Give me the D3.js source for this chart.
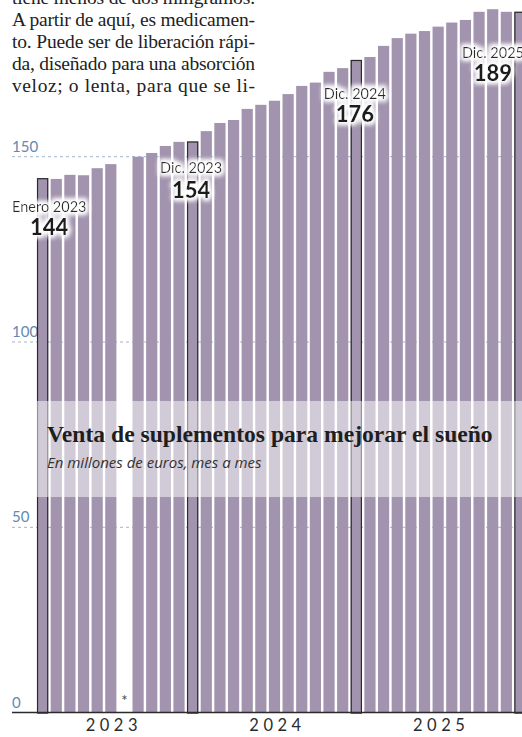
<!DOCTYPE html>
<html>
<head>
<meta charset="utf-8">
<script src="https://cdn.jsdelivr.net/npm/d3@7"></script>
<style>
  html, body { margin: 0; padding: 0; background: #fff; }
  svg { display: block; }
</style>
</head>
<body>
<svg id="chart" width="522" height="737"></svg>
<script>
// ---------------- DATA ----------------
const years = ["2023", "2024", "2025"];
const monthNames = ["Ene", "Feb", "Mar", "Abr", "May", "Jun", "Jul", "Ago", "Sep", "Oct", "Nov", "Dic"];
// Ventas mensuales, millones de euros (julio 2023 sin dato *)
const sales2023 = [144.2, 144.0, 145.1, 145.0, 146.9, 148.0, null, 150.0, 151.0, 152.9, 154.0, 154.1];
const sales2024 = [156.9, 159.1, 159.9, 162.9, 164.0, 165.1, 166.9, 169.1, 170.0, 172.9, 173.9, 176.1];
const sales2025 = [176.9, 179.9, 182.0, 183.2, 183.9, 185.1, 186.2, 186.9, 189.1, 189.8, 189.1, 189.1];
const yTicks = [0, 50, 100, 150];
const highlightKeys = ["2023-Ene", "2023-Dic", "2024-Dic", "2025-Dic"];
const highlightNames = ["Enero 2023", "Dic. 2023", "Dic. 2024", "Dic. 2025"];
const missingKey = "2023-Jul";
const introLines = [
  "tiene menos de dos miligramos.",
  "A partir de aquí, es medicamen-",
  "to. Puede ser de liberación rápi-",
  "da, diseñado para una absorción",
  "veloz; o lenta, para que se li-"
];
const title = "Venta de suplementos para mejorar el sueño";
const subtitle = "En millones de euros, mes a mes";

// ---------------- BUILD ----------------
const allSales = [sales2023, sales2024, sales2025];
const data = [];
years.forEach((yr, i) => monthNames.forEach((m, j) => {
  data.push({ key: yr + "-" + m, year: yr, month: m, value: allSales[i][j] });
}));

const svg = d3.select("#chart");
const W = 522, H = 737;

const x = d3.scaleBand()
  .domain(data.map(d => d.key))
  .range([35.8, 526.8])
  .paddingInner(0.18)
  .paddingOuter(0.09);

const y = d3.scaleLinear().domain([0, 150]).range([712.6, 156.7]);

const sans = "Lato, 'Open Sans', sans-serif";
const serif = "'Liberation Serif', 'DejaVu Serif', serif";

// glow filter
const defs = svg.append("defs");
const f = defs.append("filter").attr("id", "glow")
  .attr("x", "-30%").attr("y", "-50%").attr("width", "160%").attr("height", "200%");
f.append("feMorphology").attr("in", "SourceAlpha").attr("operator", "dilate").attr("radius", 1.5).attr("result", "d");
f.append("feGaussianBlur").attr("in", "d").attr("stdDeviation", 2.5).attr("result", "b");
f.append("feFlood").attr("flood-color", "#fff").attr("flood-opacity", 1);
f.append("feComposite").attr("in2", "b").attr("operator", "in").attr("result", "g");
const fm = f.append("feMerge");
fm.append("feMergeNode").attr("in", "g");
fm.append("feMergeNode").attr("in", "g");
fm.append("feMergeNode").attr("in", "SourceGraphic");

// gridlines (behind bars)
const grid = svg.append("g");
grid.selectAll("line").data(yTicks.filter(t => t > 0)).join("line")
  .attr("x1", 12).attr("x2", W)
  .attr("y1", d => y(d)).attr("y2", d => y(d))
  .attr("stroke", "#9fb4d0").attr("stroke-width", 1)
  .attr("stroke-dasharray", "3,3");
grid.selectAll("text").data(yTicks).join("text")
  .attr("x", 12).attr("y", d => y(d) - 5)
  .attr("font-family", sans).attr("font-size", 15).attr("font-weight", 400)
  .attr("fill", "#6688b2")
  .text(d => d);

// bars
const bars = data.filter(d => d.value != null);
svg.append("g").selectAll("rect").data(bars).join("rect")
  .attr("x", d => x(d.key)).attr("width", x.bandwidth())
  .attr("y", d => y(d.value)).attr("height", d => y(0) - y(d.value))
  .attr("fill", "#a294ae");

// highlighted outlines
const hi = data.filter(d => highlightKeys.includes(d.key));
svg.append("g").selectAll("rect").data(hi).join("rect")
  .attr("x", d => x(d.key) + 0.5).attr("width", x.bandwidth() - 1)
  .attr("y", d => y(d.value) + 0.5).attr("height", d => y(0) - y(d.value))
  .attr("fill", "none").attr("stroke", "#2a2a2a").attr("stroke-width", 1.2);

// title band
svg.append("rect").attr("x", 0).attr("y", 401).attr("width", W).attr("height", 96)
  .attr("fill", "#fff").attr("fill-opacity", 0.5);
svg.append("text").attr("x", 47).attr("y", 442)
  .attr("font-family", serif).attr("font-weight", 700).attr("font-size", 23.6)
  .attr("fill", "#1e1e1e").text(title);
svg.append("text").attr("x", 47).attr("y", 468)
  .attr("font-family", "'Open Sans', sans-serif").attr("font-style", "italic").attr("font-weight", 400)
  .attr("font-size", 15).attr("fill", "#333").text(subtitle);

// axis
svg.append("line").attr("x1", 12).attr("x2", W).attr("y1", y(0)).attr("y2", y(0))
  .attr("stroke", "#2b2b2b").attr("stroke-width", 1.5);
svg.append("g").selectAll("text").data(years).join("text")
  .attr("x", d => x(d + "-Jun") + x.bandwidth() / 2 + 3)
  .attr("y", 731)
  .attr("text-anchor", "middle")
  .attr("font-family", sans).attr("font-size", 16.5).attr("font-weight", 400)
  .attr("letter-spacing", 4.5).attr("fill", "#2b2b2b")
  .text(d => d);
svg.append("text")
  .attr("x", x(missingKey) + x.bandwidth() / 2)
  .attr("y", 706).attr("text-anchor", "middle")
  .attr("font-family", sans).attr("font-size", 15).attr("fill", "#444")
  .text("*");

// annotations
const nameDy = [34, 31, 39, 46];
const valueDy = [57, 56, 62, 69];
const ann = svg.append("g").attr("filter", "url(#glow)");
hi.forEach((d, i) => {
  const cx = x(d.key) + x.bandwidth() / 2 - 1.5;
  const g = ann.append("g");
  const t1 = g.append("text").attr("y", y(d.value) + nameDy[i])
    .attr("text-anchor", "middle")
    .attr("font-family", sans).attr("font-size", 14.5).attr("font-weight", 400)
    .attr("fill", "#2a2a2a").text(highlightNames[i]);
  const t2 = g.append("text").attr("y", y(d.value) + valueDy[i])
    .attr("text-anchor", "middle")
    .attr("font-family", sans).attr("font-size", 22).attr("font-weight", 900)
    .attr("fill", "#1c1c1c").text(Math.round(d.value));
  const w = t1.node().getComputedTextLength();
  const c = Math.min(Math.max(cx, 12 + w / 2), 524 - w / 2);
  t1.attr("x", c); t2.attr("x", c);
});

// intro text (cropped paragraph)
svg.append("g").selectAll("text").data(introLines).join("text")
  .attr("x", 12).attr("y", (d, i) => 3.5 + i * 22)
  .attr("font-family", serif).attr("font-size", 19.5)
  .attr("fill", "#222")
  .attr("textLength", 243).attr("lengthAdjust", "spacing")
  .text(d => d);
</script>
</body>
</html>
